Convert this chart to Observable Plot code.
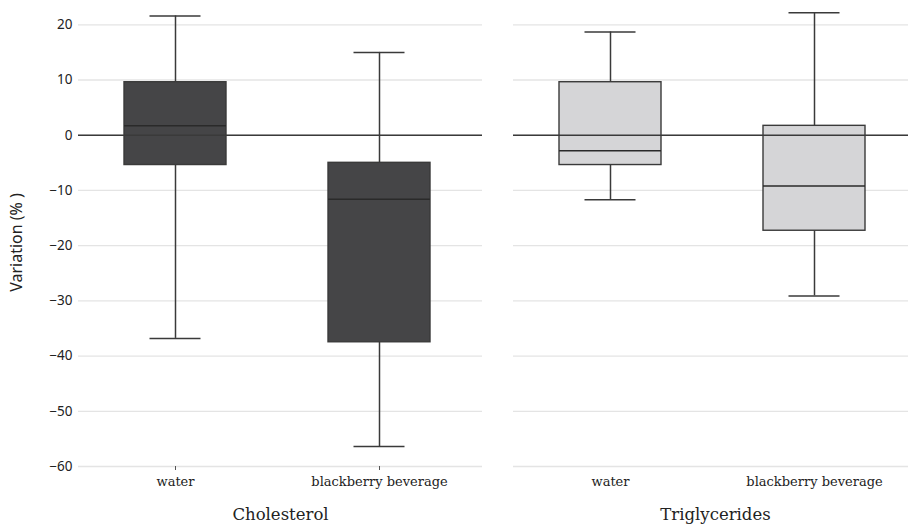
<!DOCTYPE html>
<html>
<head>
<meta charset="utf-8">
<script src="https://cdn.jsdelivr.net/npm/d3@7"></script>
<script src="https://cdn.jsdelivr.net/npm/@observablehq/plot@0.6"></script>
<style>
  html, body { margin: 0; padding: 0; background: #fff; overflow: hidden; }
  #chart { width: 908px; height: 526px; overflow: hidden; }
  #chart svg { max-width: none !important; }
</style>
</head>
<body>
<div id="chart"></div>
<script>
// ---- data ----
const variables = ["Cholesterol", "Triglycerides"];
const groups = ["water", "blackberry beverage"];
// order: Cholesterol/water, Cholesterol/blackberry, Triglycerides/water, Triglycerides/blackberry
const whiskerLow  = [-36.8, -56.4, -11.7, -29.1];
const q1          = [-5.4, -37.5, -5.4, -17.3];
const median      = [1.7, -11.6, -2.8, -9.2];
const q3          = [9.6, -5.0, 9.6, 1.7];
const whiskerHigh = [21.6, 15.0, 18.7, 22.2];
const yTicks = [20, 10, 0, -10, -20, -30, -40, -50, -60];
const boxColors = ["#454547", "#d5d5d7"];

const rows = [];
variables.forEach((v, i) => groups.forEach((g, j) => {
  const k = i * groups.length + j;
  rows.push({variable: v, group: g, low: whiskerLow[k], q1: q1[k], median: median[k], q3: q3[k], high: whiskerHigh[k]});
}));

const ink = "#3a3a3a";

const chart = Plot.plot({
  width: 917,
  height: 526,
  marginLeft: 78,
  marginRight: 0,
  marginTop: 0,
  marginBottom: 60,
  style: {background: "#fff", fontSize: "13px", fontFamily: "Noto Sans", color: "#333", maxWidth: "none"},
  fx: {domain: variables, paddingInner: 0.0713, paddingOuter: 0},
  x: {domain: groups, paddingInner: 0.5, paddingOuter: 0.24, align: 0.47},
  y: {domain: [-60, 24.4]},
  color: {domain: variables, range: boxColors},
  marks: [
    Plot.gridY(yTicks, {stroke: "#e4e4e4", strokeOpacity: 1, strokeWidth: 1.3}),
    Plot.ruleX(rows, {x: "group", fx: "variable", y1: "low", y2: "q1", stroke: ink, strokeWidth: 1.5}),
    Plot.ruleX(rows, {x: "group", fx: "variable", y1: "q3", y2: "high", stroke: ink, strokeWidth: 1.5}),
    Plot.tickY(rows, {x: "group", fx: "variable", y: "low", stroke: ink, strokeWidth: 1.5, inset: 25.5}),
    Plot.tickY(rows, {x: "group", fx: "variable", y: "high", stroke: ink, strokeWidth: 1.5, inset: 25.5}),
    Plot.barY(rows, {x: "group", fx: "variable", y1: "q1", y2: "q3", fill: "variable", stroke: ink, strokeWidth: 1.4}),
    Plot.tickY(rows, {x: "group", fx: "variable", y: "median", stroke: "#2a2a2a", strokeWidth: 1.5}),
    Plot.ruleY([0], {stroke: ink, strokeWidth: 1.5}),
    Plot.axisY(yTicks, {
      tickSize: 0, tickPadding: 6,
      label: "Variation (% )", labelAnchor: "center", labelOffset: 68, labelArrow: "none",
      tickFormat: d => d3.format("d")(d).replace("-", "\u2212")
    }),
    Plot.axisX({tickSize: 0, tickPadding: 10, fontSize: 13, fontFamily: "DejaVu Serif", color: "#222", label: null}),
    Plot.axisX(groups, {fx: () => variables[0], tickSize: 4, text: null, stroke: "#555", label: null}),
    Plot.axisFx({anchor: "bottom", tickSize: 0, tickPadding: 42, fontSize: 16.5, fontFamily: "DejaVu Serif", color: "#222", label: null})
  ]
});
chart.style.maxWidth = "none";
chart.querySelectorAll('g[aria-label="y-axis tick label"] text').forEach(t => {
  t.setAttribute("font-size", "13.5");
  t.style.fontSize = "13.5px";
  t.style.fontFamily = "'Noto Sans', sans-serif";
  t.style.fill = "#222";
});
chart.querySelectorAll("text").forEach(t => {
  if (t.textContent === "Variation (% )") {
    t.setAttribute("dx", "-9");
    t.style.fontSize = "16px";
    t.style.fontFamily = "'Noto Sans', sans-serif";
    t.style.fill = "#222";
  }
});
document.getElementById("chart").appendChild(chart);
</script>
</body>
</html>
